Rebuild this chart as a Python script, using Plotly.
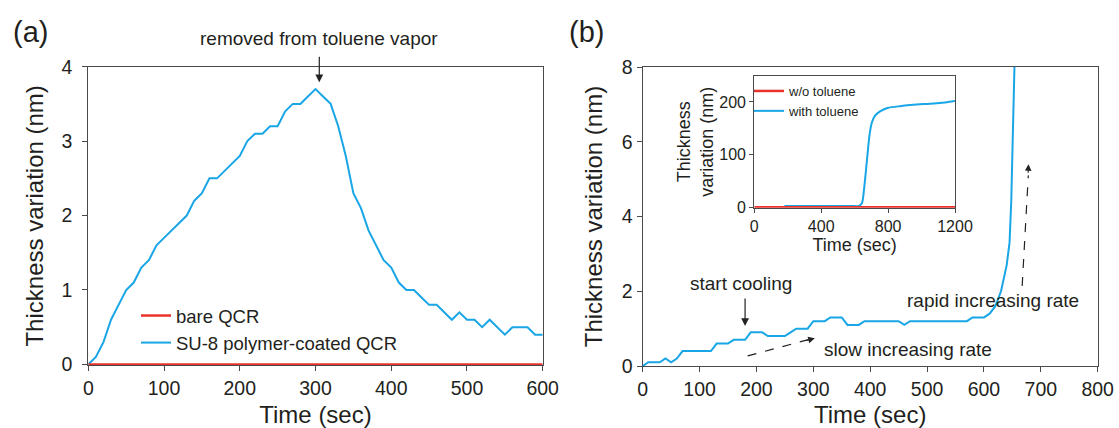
import plotly.graph_objects as go

# ---------------- data ----------------
# panel (a)
a_time = [0, 10, 20, 30, 40, 50, 60, 70, 80, 90, 100, 110, 120, 130, 140, 150, 160, 170, 180, 190,
          200, 210, 220, 230, 240, 250, 260, 270, 280, 290, 300, 310, 320, 330, 340, 350, 360, 370,
          380, 390, 400, 410, 420, 430, 440, 450, 460, 470, 480, 490, 500, 510, 520, 530, 540, 550,
          560, 570, 580, 590, 600]
a_su8 = [0.0, 0.1, 0.3, 0.6, 0.8, 1.0, 1.1, 1.3, 1.4, 1.6, 1.7, 1.8, 1.9, 2.0, 2.2, 2.3, 2.5, 2.5, 2.6, 2.7,
         2.8, 3.0, 3.1, 3.1, 3.2, 3.2, 3.4, 3.5, 3.5, 3.6, 3.7, 3.6, 3.5, 3.2, 2.8, 2.3, 2.1, 1.8,
         1.6, 1.4, 1.3, 1.1, 1.0, 1.0, 0.9, 0.8, 0.8, 0.7, 0.6, 0.7, 0.6, 0.6, 0.5, 0.6, 0.5, 0.4,
         0.5, 0.5, 0.5, 0.4, 0.4]
a_bare_time = [0, 600]
a_bare = [0.0, 0.0]

# panel (b) main
b_time = [0, 10, 20, 30, 40, 50, 60, 70, 80, 90, 100, 110, 120, 130, 140, 150, 160, 170, 180, 190,
          200, 210, 220, 230, 240, 250, 260, 270, 280, 290, 300, 310, 320, 330, 340, 350, 360, 370,
          380, 390, 400, 410, 420, 430, 440, 450, 460, 470, 480, 490, 500, 510, 520, 530, 540, 550,
          560, 570, 580, 590, 600, 610, 620, 630, 640, 645, 648, 650, 652, 654, 656]
b_thick = [0.0, 0.1, 0.1, 0.1, 0.2, 0.1, 0.2, 0.4, 0.4, 0.4, 0.4, 0.4, 0.4, 0.6, 0.6, 0.6, 0.7, 0.7, 0.7, 0.9,
           0.9, 0.9, 0.8, 0.8, 0.8, 0.8, 0.9, 1.0, 1.0, 1.0, 1.2, 1.2, 1.2, 1.3, 1.3, 1.3, 1.1, 1.1,
           1.1, 1.2, 1.2, 1.2, 1.2, 1.2, 1.2, 1.2, 1.1, 1.2, 1.2, 1.2, 1.2, 1.2, 1.2, 1.2, 1.2, 1.2,
           1.2, 1.2, 1.3, 1.3, 1.3, 1.4, 1.6, 2.0, 2.7, 3.3, 4.4, 5.7, 7.0, 8.3, 9.5]

# panel (b) inset
inset_tol_time = [180, 300, 400, 500, 600, 622, 644, 656, 672, 688, 702, 722, 752, 801, 871, 1010, 1110, 1200]
inset_tol = [2, 2, 2, 2, 2, 2, 8, 34, 84, 135, 160, 174, 182, 189, 192, 196, 198, 202]
inset_wo_time = [0, 1200]
inset_wo = [0, 0]

a_xticks = [0, 100, 200, 300, 400, 500, 600]
a_yticks = [0, 1, 2, 3, 4]
b_xticks = [0, 100, 200, 300, 400, 500, 600, 700, 800]
b_yticks = [0, 2, 4, 6, 8]
in_xticks = [0, 400, 800, 1200]
in_yticks = [0, 100, 200]

# ---------------- style ----------------
W, H = 1119, 428
FONT = "Liberation Sans, Arial, sans-serif"
BLUE = "#19a6e6"
RED = "#e8322b"
AX = "#4a4a4a"
TXT = "#231f20"


def px_x(p):
    return p / W


def px_y(p):
    return 1 - p / H


fig = go.Figure()

fig.add_trace(go.Scatter(x=a_time, y=a_su8, mode="lines", name="SU-8 polymer-coated QCR",
                         line=dict(color=BLUE, width=2), xaxis="x", yaxis="y", legend="legend",
                         legendrank=2))
fig.add_trace(go.Scatter(x=a_bare_time, y=a_bare, mode="lines", name="bare QCR",
                         line=dict(color=RED, width=2.5), xaxis="x", yaxis="y", legend="legend",
                         legendrank=1))
fig.add_trace(go.Scatter(x=b_time, y=b_thick, mode="lines", name="(b)", showlegend=False,
                         line=dict(color=BLUE, width=2), xaxis="x2", yaxis="y2"))
fig.add_trace(go.Scatter(x=inset_tol_time, y=inset_tol, mode="lines", name="with toluene",
                         line=dict(color=BLUE, width=2, shape="spline", smoothing=0.6),
                         xaxis="x3", yaxis="y3", legend="legend2", legendrank=2))
fig.add_trace(go.Scatter(x=inset_wo_time, y=inset_wo, mode="lines", name="w/o toluene",
                         line=dict(color=RED, width=2.5), xaxis="x3", yaxis="y3", legend="legend2",
                         legendrank=1))

TICK = 19.5
axis_common = dict(showline=True, mirror=True, linecolor=AX, linewidth=1.3, ticks="outside",
                   ticklen=5, tickwidth=1.3, tickcolor=AX, showgrid=False, zeroline=False,
                   automargin=False, layer="below traces",
                   tickfont=dict(family=FONT, size=TICK, color=TXT))
title_font = dict(family=FONT, size=24, color=TXT)
inset_tick = dict(family=FONT, size=16, color=TXT)
inset_title = dict(family=FONT, size=18, color=TXT)

fig.update_layout(
    width=W, height=H, margin=dict(l=0, r=0, t=0, b=0),
    paper_bgcolor="white", plot_bgcolor="white",
    font=dict(family=FONT, color=TXT),
    xaxis=dict(axis_common, domain=[px_x(88.3), px_x(542.7)], range=[0, 600], tickvals=a_xticks,
               anchor="y", title=dict(text="Time (sec)", font=title_font, standoff=8)),
    yaxis=dict(axis_common, domain=[px_y(365), px_y(66.7)], range=[-0.008, 4], tickvals=a_yticks,
               anchor="x", ticklabelstandoff=6,
               title=dict(text="Thickness variation (nm)", font=title_font, standoff=10)),
    xaxis2=dict(axis_common, domain=[px_x(642.7), px_x(1097.7)], range=[0, 800], tickvals=b_xticks,
                anchor="y2", title=dict(text="Time (sec)", font=title_font, standoff=8)),
    yaxis2=dict(axis_common, domain=[px_y(366), px_y(67)], range=[0, 8], tickvals=b_yticks,
                anchor="x2",
                title=dict(text="Thickness variation (nm)", font=title_font, standoff=12)),
    xaxis3=dict(axis_common, domain=[px_x(754.3), px_x(955)], range=[0, 1200], tickvals=in_xticks,
                anchor="y3", ticklen=4, tickfont=inset_tick,
                title=dict(text="Time (sec)", font=inset_title, standoff=1)),
    yaxis3=dict(axis_common, domain=[px_y(207.7), px_y(75.7)], range=[-1, 250], tickvals=in_yticks,
                anchor="x3", ticklen=4, tickfont=inset_tick,
                title=dict(text="Thickness<br>variation (nm)", font=inset_title, standoff=0)),
    legend=dict(x=px_x(136), y=px_y(297), xanchor="left", yanchor="top", bgcolor="rgba(0,0,0,0)",
                font=dict(family=FONT, size=18.5, color=TXT), tracegroupgap=0),
    legend2=dict(x=px_x(749), y=px_y(76), xanchor="left", yanchor="top", bgcolor="rgba(0,0,0,0)",
                 font=dict(family=FONT, size=13, color=TXT), tracegroupgap=0),
)

ann_font = dict(family=FONT, size=19, color=TXT)
annotations = [
    dict(text="(a)", xref="paper", yref="paper", x=px_x(30), y=px_y(32), xanchor="center",
         yanchor="middle", showarrow=False, font=dict(family=FONT, size=29, color=TXT)),
    dict(text="(b)", xref="paper", yref="paper", x=px_x(586), y=px_y(32), xanchor="center",
         yanchor="middle", showarrow=False, font=dict(family=FONT, size=29, color=TXT)),
    dict(text="removed from toluene vapor", xref="x", yref="paper", x=305, y=px_y(39),
         xanchor="center", yanchor="middle", showarrow=False, font=ann_font),
    dict(text="", xref="x", yref="y", x=305, y=3.79, ax=0, ay=-27, showarrow=True,
         arrowhead=2, arrowsize=1.3, arrowwidth=1.2, arrowcolor="#222", standoff=0),
    dict(text="start cooling", xref="x2", yref="y2", x=173, y=2.22, xanchor="center",
         yanchor="middle", showarrow=False, font=ann_font),
    dict(text="", xref="x2", yref="y2", x=180, y=1.07, ax=0, ay=-29, showarrow=True,
         arrowhead=2, arrowsize=1.3, arrowwidth=1.2, arrowcolor="#222", standoff=0),
    dict(text="slow increasing rate", xref="x2", yref="y2", x=467, y=0.45, xanchor="center",
         yanchor="middle", showarrow=False, font=ann_font),
    dict(text="rapid increasing rate", xref="x2", yref="y2", x=616, y=1.74, xanchor="center",
         yanchor="middle", showarrow=False, font=ann_font),
    dict(text="", xref="x2", yref="y2", x=302.6, y=0.74, ax=-10, ay=2.6, showarrow=True,
         arrowhead=2, arrowsize=1.2, arrowwidth=1.1, arrowcolor="#222", standoff=0),
    dict(text="", xref="x2", yref="y2", x=678.4, y=5.4, ax=-0.5, ay=10, showarrow=True,
         arrowhead=2, arrowsize=1.2, arrowwidth=1.1, arrowcolor="#222", standoff=0),
]
fig.update_layout(annotations=annotations)

shapes = [
    dict(type="line", xref="x2", yref="y2", x0=184.5, y0=0.27, x1=295, y1=0.72,
         line=dict(color="#222", width=1.2, dash="dash")),
    dict(type="line", xref="x2", yref="y2", x0=667.2, y0=2.14, x1=678, y1=5.1,
         line=dict(color="#222", width=1.2, dash="dash")),
]
fig.update_layout(shapes=shapes)

fig.write_html("out.html")
